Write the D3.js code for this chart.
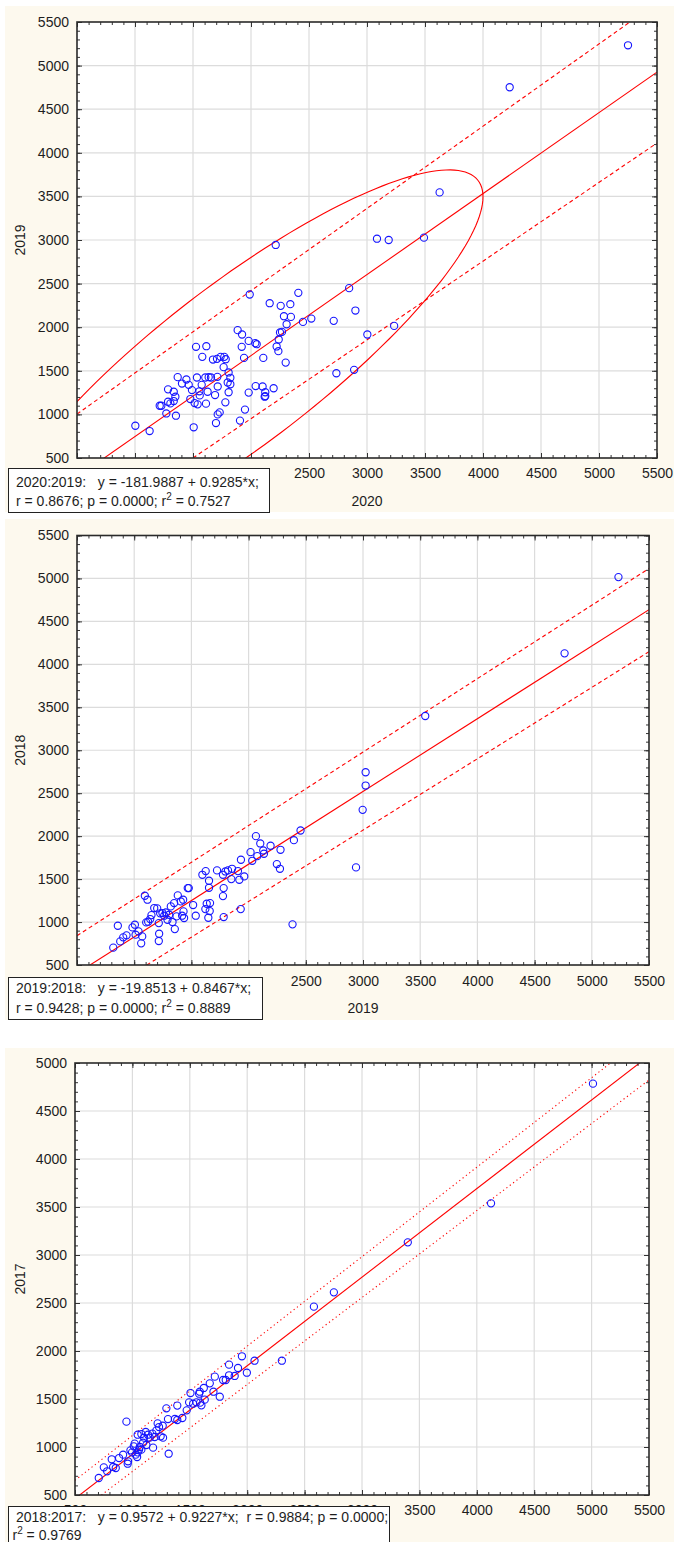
<!DOCTYPE html>
<html>
<head>
<meta charset="utf-8">
<script src="https://cdn.jsdelivr.net/npm/d3@7/dist/d3.min.js"></script>
<style>
body { margin: 0; background: #fff; }
text { font-family: "Liberation Sans", Arial, sans-serif; fill: #1e1e1e; font-size: 14px; }
.stat { white-space: pre; }
</style>
</head>
<body>
<div id="chart"></div>
<script>

// 2020 (x) vs 2019 (y)
var pts2020 = [[1003,870],[1126,809],[1213,1099],[1227,1099],[1270,1011],[1285,1287],[1285,1145],[1305,1126],[1334,1260],[1334,1153],[1348,1203],[1353,985],[1368,1427],[1405,1354],[1443,1400],[1463,1339],[1477,1176],[1491,1279],[1506,852],[1514,1130],[1526,1775],[1534,1423],[1540,1115],[1555,1265],[1558,1218],[1575,1339],[1580,1660],[1606,1423],[1612,1123],[1615,1782],[1626,1260],[1635,1427],[1655,1423],[1672,1629],[1690,1222],[1698,901],[1707,1637],[1713,1320],[1713,1000],[1730,1023],[1738,1660],[1764,1542],[1770,1660],[1779,1138],[1782,1633],[1799,1366],[1807,1481],[1807,1254],[1822,1420],[1822,1346],[1710,1431],[1885,1966],[1905,929],[1923,1916],[1920,1775],[1940,1648],[1948,1055],[1980,1250],[1980,1843],[1989,2375],[2037,1817],[2049,1805],[2040,1325],[2106,1648],[2100,1320],[2123,1254],[2118,1203],[2123,1210],[2161,2275],[2195,1300],[2221,1779],[2236,1725],[2239,1859],[2250,1939],[2267,1946],[2256,2245],[2284,2126],[2299,1594],[2307,2034],[2339,2264],[2344,2118],[2408,2394],[2448,2061],[2520,2099],[2713,2073],[2736,1472],[2846,2448],[2900,2191],[3003,1916],[3234,2015],[2889,1511],[5250,5233],[4230,4752],[3626,3546],[3086,3015],[3187,3000],[3491,3027],[2213,2943]];
var reg2020 = [-181.9887, 0.9285];
var upper2020 = [[500,1004],[5267,5500]];
var lower2020 = [[1500,500],[5500,4112]];
var ellipse2020 = { cx: 1900, cy: 1580, sx: 2100, sy: 2224, r: 0.861 };

// 2019 (x) vs 2018 (y)
var pts2019 = [[817,702],[857,957],[878,775],[904,822],[933,845],[985,938],[1006,969],[1012,853],[1038,891],[1061,752],[1070,833],[1093,1306],[1116,1260],[1105,996],[1122,1004],[1140,1035],[1151,1081],[1175,1163],[1201,1159],[1215,988],[1218,864],[1215,779],[1227,1101],[1247,1105],[1262,1074],[1277,1112],[1291,1027],[1306,1085],[1320,1182],[1335,1000],[1349,1221],[1355,918],[1370,1066],[1381,1310],[1407,1240],[1419,1074],[1428,1260],[1431,1124],[1436,1047],[1468,1395],[1477,1395],[1515,1198],[1538,1074],[1596,1550],[1625,1593],[1622,1151],[1634,1213],[1648,1050],[1654,1481],[1654,1399],[1660,1128],[1663,1221],[1724,1601],[1776,1550],[1782,1395],[1776,1302],[1782,1058],[1797,1589],[1820,1601],[1849,1500],[1855,1620],[1907,1593],[1919,1492],[1933,1725],[1931,1151],[1962,1531],[2017,1814],[2032,1713],[2064,2000],[2076,1767],[2102,1915],[2128,1833],[2134,1795],[2192,1888],[2247,1675],[2274,1620],[2279,1841],[2384,973],[2396,1953],[2454,2066],[3023,2744],[3023,2589],[2997,2306],[2939,1636],[5233,5016],[4762,4128],[3544,3399]];
var reg2019 = [-19.8513, 0.8467];
var upper2019 = [[500,841],[5500,5116]];
var lower2019 = [[1110,500],[5500,4147]];

// 2018 (x) vs 2017 (y)
var pts2018 = [[707,677],[751,788],[780,747],[820,872],[832,792],[855,781],[884,885],[919,920],[948,1264],[959,826],[962,851],[983,965],[997,944],[1012,1007],[1020,1035],[1029,920],[1041,896],[1046,944],[1046,1128],[1058,972],[1064,1000],[1078,972],[1078,1135],[1093,1045],[1102,1097],[1116,1156],[1122,1021],[1136,1128],[1151,1097],[1174,1139],[1180,993],[1194,1104],[1209,1173],[1220,1246],[1232,1208],[1246,1111],[1264,1222],[1267,1097],[1296,1403],[1310,1291],[1316,930],[1370,1292],[1391,1431],[1391,1281],[1435,1302],[1473,1382],[1494,1465],[1506,1562],[1529,1451],[1558,1465],[1581,1555],[1587,1576],[1590,1462],[1601,1434],[1622,1615],[1630,1493],[1674,1663],[1706,1576],[1718,1733],[1761,1524],[1790,1698],[1813,1698],[1842,1858],[1842,1747],[1891,1740],[1920,1823],[1954,1945],[1997,1774],[2064,1899],[2302,1899],[2581,2462],[2755,2611],[3399,3132],[4124,3538],[5012,4785]];
var reg2018 = [0.9572, 0.9227];
var upper2018 = [[500,653],[5165,5000]];
var lower2018 = [[730,500],[5500,4823]];

var ticksX = [500,1000,1500,2000,2500,3000,3500,4000,4500,5000,5500];
var ticksY5500 = [500,1000,1500,2000,2500,3000,3500,4000,4500,5000,5500];
var ticksY5000 = [500,1000,1500,2000,2500,3000,3500,4000,4500,5000];

var svg = d3.select("#chart").append("svg")
    .attr("width", 674)
    .attr("height", 1542);

var lineGen = d3.line();

function drawPanel(p) {
    var g = svg.append("g");
    var x = d3.scaleLinear().domain([500, 5500]).range([p.left, p.right]);
    var y = d3.scaleLinear().domain([500, p.yTicks[p.yTicks.length - 1]]).range([p.bottom, p.top]);

    // cream background and white plot area
    g.append("rect").attr("x", 5).attr("y", p.bg[0]).attr("width", 669).attr("height", p.bg[1] - p.bg[0]).attr("fill", "#fdf9ee");
    g.append("rect").attr("x", p.left).attr("y", p.top).attr("width", p.right - p.left).attr("height", p.bottom - p.top).attr("fill", "#fff");

    // gridlines
    g.selectAll(".gx").data(ticksX.slice(1, -1)).enter().append("line")
        .attr("x1", function(d) { return x(d); }).attr("x2", function(d) { return x(d); })
        .attr("y1", p.top).attr("y2", p.bottom)
        .attr("stroke", "#dcdcdc").attr("stroke-width", 1.2);
    g.selectAll(".gy").data(p.yTicks.slice(1, -1)).enter().append("line")
        .attr("y1", function(d) { return y(d); }).attr("y2", function(d) { return y(d); })
        .attr("x1", p.left).attr("x2", p.right)
        .attr("stroke", "#dcdcdc").attr("stroke-width", 1.2);

    var clipId = "clip" + p.id;
    svg.append("clipPath").attr("id", clipId).append("rect")
        .attr("x", p.left).attr("y", p.top).attr("width", p.right - p.left).attr("height", p.bottom - p.top);
    var inner = g.append("g").attr("clip-path", "url(#" + clipId + ")");

    // confidence ellipse
    if (p.ellipse) {
        var e = p.ellipse, s = Math.sqrt(1 - e.r * e.r);
        var ring = d3.range(0, 361, 2).map(function(a) {
            var t = a * Math.PI / 180;
            return [x(e.cx + e.sx * Math.cos(t)), y(e.cy + e.sy * (e.r * Math.cos(t) + s * Math.sin(t)))];
        });
        inner.append("path").attr("d", lineGen(ring)).attr("fill", "none").attr("stroke", "#f00").attr("stroke-width", 1.1);
    }

    // prediction bands
    [p.upper, p.lower].forEach(function(b) {
        inner.append("path")
            .attr("d", lineGen(b.map(function(d) { return [x(d[0]), y(d[1])]; })))
            .attr("fill", "none").attr("stroke", "#f00").attr("stroke-width", 1.1)
            .attr("stroke-dasharray", p.dash);
    });

    // regression line
    inner.append("line")
        .attr("x1", x(500)).attr("y1", y(p.reg[0] + p.reg[1] * 500))
        .attr("x2", x(5500)).attr("y2", y(p.reg[0] + p.reg[1] * 5500))
        .attr("stroke", "#f00").attr("stroke-width", 1.1);

    // points
    inner.selectAll("circle").data(p.pts).enter().append("circle")
        .attr("cx", function(d) { return x(d[0]); })
        .attr("cy", function(d) { return y(d[1]); })
        .attr("r", 3.6)
        .attr("fill", "none").attr("stroke", "#1515ff").attr("stroke-width", 1.1);

    // minor / major inward ticks on all four sides
    var minorX = d3.range(500, 5501, 100), minorY = d3.range(500, p.yTicks[p.yTicks.length - 1] + 1, 100);
    function ticks(axis, vals, size, tr) {
        var a = g.append("g").attr("transform", tr)
            .call(axis.tickValues(vals).tickSize(size).tickFormat(""));
        a.select(".domain").remove();
        a.selectAll("line").attr("stroke", "#333");
    }
    ticks(d3.axisBottom(x), minorX, -3, "translate(0," + p.bottom + ")");
    ticks(d3.axisTop(x), minorX, -3, "translate(0," + p.top + ")");
    ticks(d3.axisLeft(y), minorY, -3, "translate(" + p.left + ",0)");
    ticks(d3.axisRight(y), minorY, -3, "translate(" + p.right + ",0)");
    ticks(d3.axisBottom(x), ticksX, -5, "translate(0," + p.bottom + ")");
    ticks(d3.axisTop(x), ticksX, -5, "translate(0," + p.top + ")");
    ticks(d3.axisLeft(y), p.yTicks, -5, "translate(" + p.left + ",0)");
    ticks(d3.axisRight(y), p.yTicks, -5, "translate(" + p.right + ",0)");

    // frame
    g.append("rect").attr("x", p.left).attr("y", p.top).attr("width", p.right - p.left).attr("height", p.bottom - p.top)
        .attr("fill", "none").attr("stroke", "#2a2a2a").attr("stroke-width", 1.6);

    // tick labels (the ones fully under the statistics box are not drawn)
    var shownX = ticksX.filter(function(d) { return x(d) > p.labelsFrom; });
    var ax = g.append("g").attr("transform", "translate(0," + p.bottom + ")")
        .call(d3.axisBottom(x).tickValues(shownX).tickSize(0).tickPadding(p.xPad).tickFormat(d3.format("d")));
    ax.select(".domain").remove();
    ax.selectAll("text").style("font-size", "14px").style("font-family", null);
    var ay = g.append("g").attr("transform", "translate(" + p.left + ",0)")
        .call(d3.axisLeft(y).tickValues(p.yTicks).tickSize(0).tickPadding(8).tickFormat(d3.format("d")));
    ay.select(".domain").remove();
    ay.selectAll("text").style("font-size", "14px").style("font-family", null);

    // axis titles
    if (p.xTitle) {
        g.append("text").attr("x", (p.left + p.right) / 2).attr("y", p.bottom + 48)
            .attr("text-anchor", "middle").text(p.xTitle);
    }
    g.append("text").attr("transform", "translate(25," + ((p.top + p.bottom) / 2) + ") rotate(-90)")
        .attr("text-anchor", "middle").text(p.yTitle);

    // statistics box
    var b = p.box;
    g.append("rect").attr("x", b.x).attr("y", b.y).attr("width", b.w).attr("height", b.h)
        .attr("fill", "#fff").attr("stroke", "#222").attr("stroke-width", 1);
    b.lines.forEach(function(ln) {
        var t = g.append("text").attr("class", "stat").attr("x", ln.x).attr("y", ln.y);
        ln.parts.forEach(function(part) {
            if (part.sup) {
                t.append("tspan").attr("dy", -6).style("font-size", "10px").text(part.sup);
                t.append("tspan").attr("dy", 6).text(part.text);
            } else {
                t.append("tspan").text(part.text);
            }
        });
    });
}

drawPanel({
    id: 1, bg: [6, 512], left: 77, right: 657, top: 22, bottom: 458, yTicks: ticksY5500,
    pts: pts2020, reg: reg2020, upper: upper2020, lower: lower2020, ellipse: ellipse2020, dash: "4,3",
    xTitle: "2020", yTitle: "2019", labelsFrom: 280, xPad: 10,
    box: { x: 8.5, y: 468.5, w: 261, h: 44, lines: [
        { x: 16, y: 486.5, parts: [{ text: "2020:2019:   y = -181.9887 + 0.9285*x;" }] },
        { x: 16, y: 506, parts: [{ text: "r = 0.8676; p = 0.0000; r" }, { sup: "2", text: " = 0.7527" }] }
    ] }
});

drawPanel({
    id: 2, bg: [519, 1020], left: 77, right: 649, top: 535.5, bottom: 965, yTicks: ticksY5500,
    pts: pts2019, reg: reg2019, upper: upper2019, lower: lower2019, dash: "4,3",
    xTitle: "2019", yTitle: "2018", labelsFrom: 275, xPad: 11,
    box: { x: 8.5, y: 977.5, w: 254, h: 42, lines: [
        { x: 16, y: 993, parts: [{ text: "2019:2018:   y = -19.8513 + 0.8467*x;" }] },
        { x: 16, y: 1012.5, parts: [{ text: "r = 0.9428; p = 0.0000; r" }, { sup: "2", text: " = 0.8889" }] }
    ] }
});

drawPanel({
    id: 3, bg: [1048, 1542], left: 75, right: 649, top: 1063, bottom: 1495, yTicks: ticksY5000,
    pts: pts2018, reg: reg2018, upper: upper2018, lower: lower2018, dash: "1.2,3",
    xTitle: null, yTitle: "2017", labelsFrom: 0, xPad: 10,
    box: { x: 8.5, y: 1506.5, w: 381, h: 40, lines: [
        { x: 16, y: 1521.5, parts: [{ text: "2018:2017:   y = 0.9572 + 0.9227*x;  r = 0.9884; p = 0.0000;" }] },
        { x: 12.5, y: 1539.5, parts: [{ text: "r" }, { sup: "2", text: " = 0.9769" }] }
    ] }
});
</script>
</body>
</html>
